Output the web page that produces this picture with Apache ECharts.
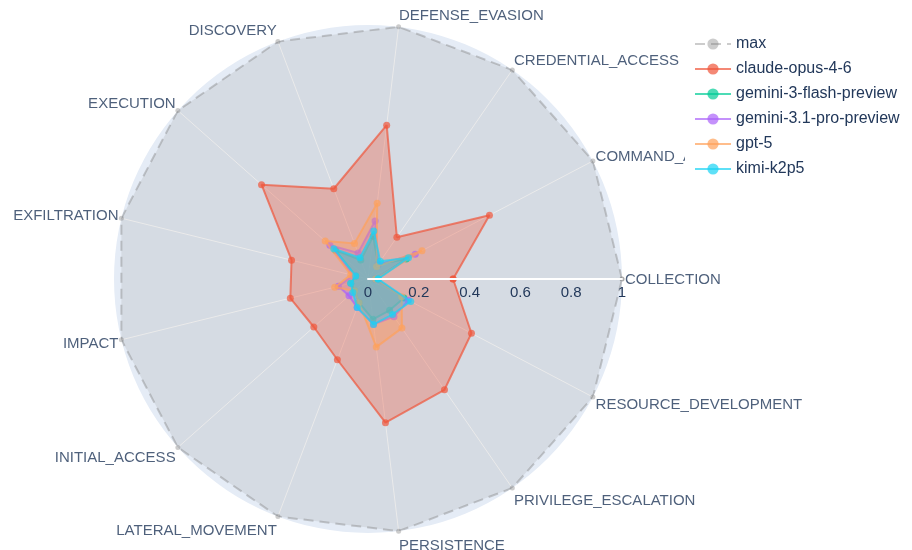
<!DOCTYPE html>
<html>
<head>
<meta charset="utf-8">
<title>ATT&CK tactic radar</title>
<script src="https://cdn.jsdelivr.net/npm/echarts@6/dist/echarts.min.js"></script>
<style>
  html, body { margin: 0; padding: 0; background: #fff; }
  #chart { width: 912px; height: 550px; }
</style>
</head>
<body>
<div id="chart"></div>
<script>
// tactics, counterclockwise from the right
const categories = [
  'COLLECTION', 'COMMAND_AND_CONTROL', 'CREDENTIAL_ACCESS', 'DEFENSE_EVASION',
  'DISCOVERY', 'EXECUTION', 'EXFILTRATION', 'IMPACT', 'INITIAL_ACCESS',
  'LATERAL_MOVEMENT', 'PERSISTENCE', 'PRIVILEGE_ESCALATION', 'RESOURCE_DEVELOPMENT'
]
const radialTicks = [0, 0.2, 0.4, 0.6, 0.8, 1]

// series values (same order as categories)
const maxValues = [1, 1, 1, 1, 1, 1, 1, 1, 1, 1, 1, 1, 1]
const claudeValues = [0.335, 0.54, 0.20, 0.61, 0.38, 0.56, 0.31, 0.315, 0.285, 0.34, 0.57, 0.53, 0.46]
const geminiFlashValues = [0.03, 0.17, 0.07, 0.17, 0.08, 0.17, 0.05, 0.07, 0.07, 0.10, 0.16, 0.15, 0.16]
const geminiProValues = [0.03, 0.21, 0.07, 0.23, 0.11, 0.20, 0.06, 0.12, 0.10, 0.12, 0.18, 0.18, 0.18]
const gptValues = [0.03, 0.24, 0.06, 0.30, 0.15, 0.225, 0.07, 0.135, 0.07, 0.10, 0.27, 0.235, 0.15]
const kimiValues = [0.04, 0.18, 0.085, 0.19, 0.09, 0.18, 0.05, 0.07, 0.08, 0.12, 0.18, 0.17, 0.19]

const seriesNames = ['max', 'claude-opus-4-6', 'gemini-3-flash-preview', 'gemini-3.1-pro-preview', 'gpt-5', 'kimi-k2p5']
const seriesValues = [maxValues, claudeValues, geminiFlashValues, geminiProValues, gptValues, kimiValues]
const seriesColors = ['#808080', '#EF553B', '#00CC96', '#AB63FA', '#FFA15A', '#19D3F3']

const textColor = '#22385a'
const fontFamily = 'Liberation Sans'

// polygon points: [radius, categoryIndex], first point repeated to close it
const closeLoop = (values) => {
  const pts = values.map((v, i) => [v, i])
  pts.push([values[0], 0])
  return pts
}

const chart = echarts.init(document.getElementById('chart'))

const dataSeries = seriesNames.map((name, idx) => {
  const isMax = idx === 0
  return {
    name,
    type: 'line',
    coordinateSystem: 'polar',
    polarIndex: 0,
    data: closeLoop(seriesValues[idx]),
    symbol: 'circle',
    symbolSize: isMax ? 5 : 7,
    smooth: false,
    clip: false,
    z: 2 + idx,
    lineStyle: {
      color: seriesColors[idx],
      width: 2,
      opacity: isMax ? 0.4 : 0.7,
      type: isMax ? [10, 6] : 'solid'
    },
    itemStyle: {
      color: seriesColors[idx],
      opacity: isMax ? 0.4 : 0.7
    },
    areaStyle: {
      color: seriesColors[idx],
      opacity: isMax ? 0.16 : 0.33
    },
    emphasis: { disabled: true },
    animation: false
  }
})

// category labels placed just outside the outer ring, anchored like the original
const labelSeries = {
  name: '__labels',
  type: 'scatter',
  coordinateSystem: 'polar',
  polarIndex: 1,
  symbolSize: 0,
  silent: true,
  clip: false,
  z: 10,
  data: categories.map((name, i) => {
    const a = i * 2 * Math.PI / categories.length
    const c = Math.cos(a)
    const s = Math.sin(a)
    return {
      name,
      value: [radialTicks[radialTicks.length - 1], i],
      label: {
        position: c >= 0 ? 'right' : 'left',
        distance: 0,
        offset: [c * 3, s < 0 ? -s * 14 + 1 : -s * 12 + 1]
      }
    }
  }),
  label: {
    show: true,
    formatter: '{b}',
    color: textColor,
    fontSize: 15,
    fontFamily
  },
  animation: false
}

const bandHalf = 360 / categories.length / 2

const option = {
  backgroundColor: '#fff',
  polar: [
    { center: [368, 279], radius: 254 },
    { center: [368, 279], radius: 254 }
  ],
  angleAxis: [
    {
      // data polar: categories at band centres, rotated so the first sits at 0°
      polarIndex: 0,
      type: 'category',
      data: categories,
      startAngle: -bandHalf,
      clockwise: false,
      boundaryGap: true,
      z: 0,
      axisLine: { show: false },
      axisTick: { show: false },
      axisLabel: { show: false },
      splitLine: { show: false }
    },
    {
      // spokes at each category
      polarIndex: 1,
      type: 'category',
      data: categories,
      startAngle: 0,
      clockwise: false,
      boundaryGap: false,
      z: 1,
      axisLine: { show: false },
      axisTick: { show: false },
      axisLabel: { show: false, interval: 0 },
      splitLine: { show: true, interval: 0, lineStyle: { color: '#fff', width: 1 } }
    }
  ],
  radiusAxis: [
    {
      polarIndex: 0,
      type: 'value',
      min: radialTicks[0],
      max: radialTicks[radialTicks.length - 1],
      interval: radialTicks[1] - radialTicks[0],
      z: 0,
      axisLine: { show: false },
      axisTick: { show: false },
      axisLabel: { show: false },
      splitLine: { show: true, lineStyle: { color: '#fff', width: 1 } },
      splitArea: { show: true, areaStyle: { color: ['#E5ECF6'] } }
    },
    {
      // radial axis line and tick labels drawn above the traces
      polarIndex: 1,
      type: 'value',
      min: radialTicks[0],
      max: radialTicks[radialTicks.length - 1],
      interval: radialTicks[1] - radialTicks[0],
      z: 30,
      axisLine: { show: true, lineStyle: { color: '#fff', width: 2 } },
      axisTick: { show: false },
      splitLine: { show: false },
      axisLabel: {
        show: true,
        margin: -6,
        verticalAlign: 'top',
        color: textColor,
        fontSize: 15,
        fontFamily
      }
    }
  ],
  legend: {
    data: seriesNames,
    orient: 'vertical',
    left: 685,
    top: 30,
    z: 100,
    padding: [6, 6, 6, 9],
    backgroundColor: '#fff',
    itemWidth: 36,
    itemHeight: 14,
    itemGap: 9,
    selectedMode: false,
    textStyle: { color: textColor, fontSize: 16, fontFamily }
  },
  series: [...dataSeries, labelSeries]
}

chart.setOption(option)
</script>
</body>
</html>
